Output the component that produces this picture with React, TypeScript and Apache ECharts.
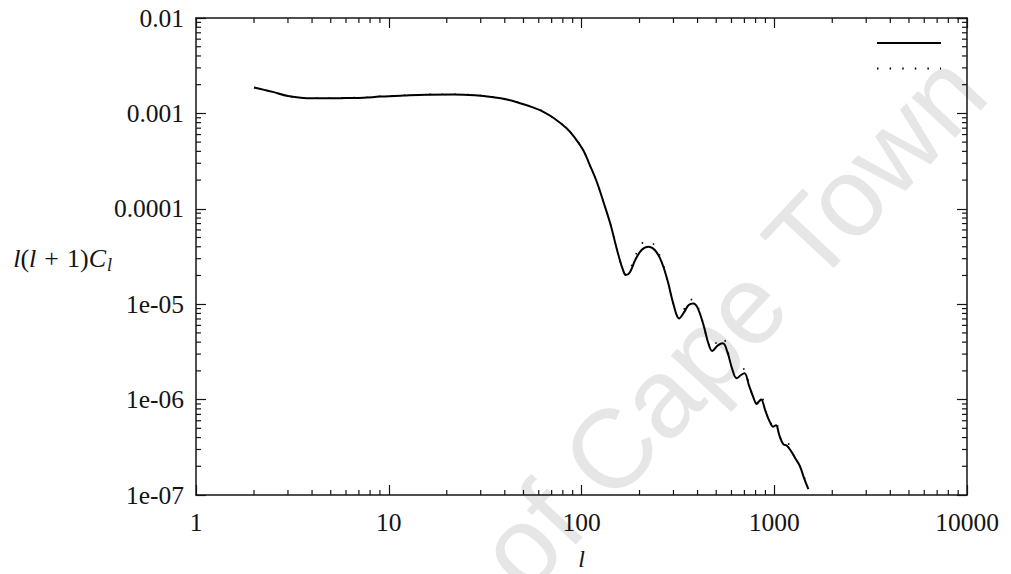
import React, { useEffect, useRef } from 'react';
import * as echarts from 'echarts';

// ---- axis ticks ----
const xTickValues = [1, 10, 100, 1000, 10000];
const xTickLabels = ['1', '10', '100', '1000', '10000'];
const yTickValues = [1e-7, 1e-6, 1e-5, 1e-4, 1e-3, 1e-2];
const yTickLabels = ['1e-07', '1e-06', '1e-05', '0.0001', '0.001', '0.01'];
const minorMultipliers = [2, 3, 4, 5, 6, 7, 8, 9];

// ---- data: multipole l and l(l+1)C_l ----
const multipoleL = [
  2, 2.5, 3, 3.5, 4, 5, 6, 7.4, 9, 12, 15.7, 21.6, 28, 34.9, 41, 48, 55, 63.4, 72, 83.7,
  92, 102, 110, 120, 130, 141, 150, 157, 164, 170, 178, 190, 205, 222, 240, 260, 280, 300, 321, 340,
  360, 380, 400, 430, 455, 477, 510, 541, 570, 605, 638, 670, 700, 740, 780, 811, 835, 854, 900, 950,
  988, 1021, 1060, 1114, 1160, 1220, 1290, 1360, 1420, 1503,
];
const solidCl = [
  1.87e-3, 1.68e-3, 1.52e-3, 1.46e-3, 1.44e-3, 1.44e-3, 1.45e-3, 1.46e-3, 1.5e-3, 1.54e-3,
  1.57e-3, 1.58e-3, 1.55e-3, 1.48e-3, 1.4e-3, 1.28e-3, 1.17e-3, 1.04e-3, 8.9e-4, 6.98e-4,
  5.6e-4, 4.13e-4, 2.92e-4, 1.92e-4, 1.18e-4, 7.0e-5, 4.3e-5, 3.05e-5, 2.3e-5, 2.02e-5,
  2.15e-5, 2.9e-5, 3.7e-5, 4.0e-5, 3.7e-5, 2.8e-5, 1.75e-5, 1.0e-5, 7.1e-6, 8.2e-6,
  9.8e-6, 1.02e-5, 9.2e-6, 6.0e-6, 3.9e-6, 3.24e-6, 3.7e-6, 3.89e-6, 3.2e-6, 2.1e-6,
  1.67e-6, 1.8e-6, 1.89e-6, 1.4e-6, 1.05e-6, 9.0e-7, 9.6e-7, 1.0e-6, 7.6e-7, 5.8e-7,
  5.2e-7, 5.4e-7, 4.3e-7, 3.4e-7, 3.3e-7, 2.9e-7, 2.4e-7, 2.0e-7, 1.55e-7, 1.15e-7,
];
const dottedCl = [
  1.87e-3, 1.68e-3, 1.52e-3, 1.46e-3, 1.45e-3, 1.45e-3, 1.46e-3, 1.47e-3, 1.51e-3, 1.55e-3,
  1.58e-3, 1.59e-3, 1.56e-3, 1.49e-3, 1.41e-3, 1.29e-3, 1.18e-3, 1.05e-3, 8.9e-4, 6.98e-4,
  5.6e-4, 4.13e-4, 2.92e-4, 1.92e-4, 1.18e-4, 7.0e-5, 4.3e-5, 3.05e-5, 2.3e-5, 2.05e-5,
  2.3e-5, 3.2e-5, 4.3e-5, 4.6e-5, 4.1e-5, 2.9e-5, 1.75e-5, 1.0e-5, 7.3e-6, 8.8e-6,
  1.1e-5, 1.12e-5, 9.6e-6, 6.0e-6, 3.9e-6, 3.4e-6, 4.2e-6, 4.4e-6, 3.4e-6, 2.1e-6,
  1.7e-6, 2.0e-6, 2.1e-6, 1.45e-6, 1.05e-6, 9.3e-7, 1.05e-6, 1.1e-6, 7.8e-7, 5.8e-7,
  5.5e-7, 6.0e-7, 4.4e-7, 3.5e-7, 3.6e-7, 3.0e-7, 2.4e-7, 2.0e-7, 1.6e-7, 1.18e-7,
];

const X_MIN = xTickValues[0];
const X_MAX = xTickValues[xTickValues.length - 1];
const Y_MIN = yTickValues[0];
const Y_MAX = yTickValues[yTickValues.length - 1];

const SERIF = "'Liberation Serif', 'Times New Roman', Times, serif";
const SANS = "'Liberation Sans', Arial, sans-serif";
const INK = '#141414';
const LABEL_SIZE = 25.5;

function labelFor(values: number[], labels: string[], v: number) {
  const e = Math.round(Math.log10(v));
  const i = values.findIndex((t) => Math.round(Math.log10(t)) === e);
  return i >= 0 ? labels[i] : '';
}

export default function App() {
  const ref = useRef<HTMLDivElement>(null);

  useEffect(() => {
    if (!ref.current) return;
    const chart = echarts.init(ref.current, undefined, { renderer: 'svg' });

    const minorData: number[][] = [];
    for (let d = 0; d < xTickValues.length - 1; d++) {
      for (const m of minorMultipliers) minorData.push([xTickValues[d] * m, Y_MIN, 0]);
    }
    for (let d = 0; d < yTickValues.length - 1; d++) {
      for (const m of minorMultipliers) minorData.push([X_MIN, yTickValues[d] * m, 1]);
    }

    const tickStyle = { stroke: INK, lineWidth: 1.2 };
    const MINOR = 5;

    const axisCommon = {
      type: 'log' as const,
      logBase: 10,
      axisLine: { show: true, onZero: false, lineStyle: { color: INK, width: 1.5 } },
      axisTick: { show: true, inside: true, length: 10, lineStyle: { color: INK, width: 1.2 } },
      splitLine: { show: false },
      minorTick: { show: false },
      minorSplitLine: { show: false },
    };

    chart.setOption({
      animation: false,
      backgroundColor: '#ffffff',
      textStyle: { fontFamily: SERIF },
      grid: {
        left: 196,
        top: 18,
        width: 771,
        height: 477,
        containLabel: false,
        outerBoundsMode: 'none',
      },
      legend: {
        data: ['solid', 'dotted'],
        orient: 'vertical',
        right: 69,
        top: 36,
        padding: 0,
        itemWidth: 64,
        itemHeight: 14,
        itemGap: 13,
        formatter: () => '',
        textStyle: { fontSize: 10 },
        itemStyle: { opacity: 0 },
        selectedMode: false,
      },
      xAxis: [
        {
          ...axisCommon,
          position: 'bottom',
          min: X_MIN,
          max: X_MAX,
          axisLabel: {
            show: true,
            margin: 14,
            fontFamily: SERIF,
            fontSize: LABEL_SIZE,
            color: INK,
            formatter: (v: number) => labelFor(xTickValues, xTickLabels, v),
          },
          name: 'l',
          nameLocation: 'middle',
          nameGap: 52,
          nameTextStyle: { fontFamily: SERIF, fontStyle: 'italic', fontSize: 24, color: INK },
        },
        {
          ...axisCommon,
          position: 'top',
          min: X_MIN,
          max: X_MAX,
          axisLabel: { show: false },
        },
      ],
      yAxis: [
        {
          ...axisCommon,
          position: 'left',
          min: Y_MIN,
          max: Y_MAX,
          axisLabel: {
            show: true,
            margin: 12,
            fontFamily: SERIF,
            fontSize: LABEL_SIZE,
            color: INK,
            formatter: (v: number) => labelFor(yTickValues, yTickLabels, v),
          },
        },
        {
          ...axisCommon,
          position: 'right',
          min: Y_MIN,
          max: Y_MAX,
          axisLabel: { show: false },
        },
      ],
      graphic: [
        {
          type: 'text',
          x: 1005,
          y: 110,
          rotation: (47 * Math.PI) / 180,
          z: 0,
          silent: true,
          style: {
            text: 'University of Cape Town',
            fontFamily: SANS,
            fontSize: 112,
            fill: '#e6e6e6',
            align: 'right',
            verticalAlign: 'bottom',
          },
        },
        {
          type: 'text',
          x: 106,
          y: 258,
          z: 10,
          style: {
            text: '{i|l}{r|(}{i|l}{p|+}{r|1)}{i|C}',
            align: 'right',
            verticalAlign: 'middle',
            rich: {
              i: { fontFamily: SERIF, fontStyle: 'italic', fontSize: 26, fill: INK },
              r: { fontFamily: SERIF, fontSize: 26, fill: INK },
              p: { fontFamily: SERIF, fontSize: 26, fill: INK, padding: [0, 8, 0, 8] },
            },
          },
        },
        {
          type: 'text',
          x: 107,
          y: 265,
          z: 10,
          style: {
            text: 'l',
            fontFamily: SERIF,
            fontStyle: 'italic',
            fontSize: 18,
            fill: INK,
            align: 'left',
            verticalAlign: 'middle',
          },
        },
      ],
      series: [
        {
          name: 'solid',
          type: 'line',
          xAxisIndex: 0,
          yAxisIndex: 0,
          data: multipoleL.map((l, i) => [l, solidCl[i]]),
          symbol: 'none',
          showSymbol: false,
          smooth: 0.4,
          lineStyle: { color: '#000', width: 2, type: 'solid' },
          itemStyle: { color: '#000' },
          z: 3,
        },
        {
          name: 'dotted',
          type: 'line',
          xAxisIndex: 0,
          yAxisIndex: 0,
          data: multipoleL.map((l, i) => [l, dottedCl[i]]),
          symbol: 'none',
          showSymbol: false,
          smooth: 0.4,
          lineStyle: { color: '#000', width: 1.6, type: [1.5, 11.1] },
          itemStyle: { color: '#000' },
          z: 4,
        },
        {
          name: 'minorTicks',
          type: 'custom',
          xAxisIndex: 0,
          yAxisIndex: 0,
          silent: true,
          clip: false,
          encode: { x: 0, y: 1 },
          data: minorData,
          renderItem: (_params: any, api: any) => {
            const kind = api.value(2);
            if (kind === 0) {
              const v = api.value(0);
              const b = api.coord([v, Y_MIN]);
              const t = api.coord([v, Y_MAX]);
              return {
                type: 'group',
                children: [
                  { type: 'line', shape: { x1: b[0], y1: b[1], x2: b[0], y2: b[1] - MINOR }, style: tickStyle },
                  { type: 'line', shape: { x1: t[0], y1: t[1], x2: t[0], y2: t[1] + MINOR }, style: tickStyle },
                ],
              };
            }
            const v = api.value(1);
            const l = api.coord([X_MIN, v]);
            const r = api.coord([X_MAX, v]);
            return {
              type: 'group',
              children: [
                { type: 'line', shape: { x1: l[0], y1: l[1], x2: l[0] + MINOR, y2: l[1] }, style: tickStyle },
                { type: 'line', shape: { x1: r[0], y1: r[1], x2: r[0] - MINOR, y2: r[1] }, style: tickStyle },
              ],
            };
          },
        },
      ],
    });

    return () => chart.dispose();
  }, []);

  return (
    <div
      ref={ref}
      style={{ position: 'fixed', left: 0, top: 0, width: 1011, height: 574, background: '#fff' }}
    />
  );
}
